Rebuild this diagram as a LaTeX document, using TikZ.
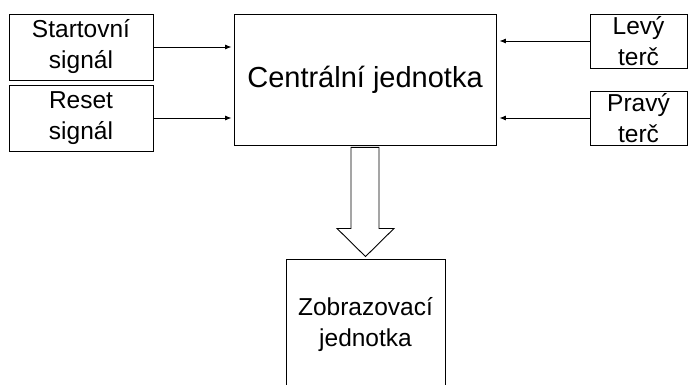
\documentclass[tikz,border=0pt]{standalone}
\usepackage{fontspec}
\setmainfont{Liberation Sans}
\usetikzlibrary{arrows.meta,calc}
\begin{document}
\begin{tikzpicture}[x=1pt,y=-1pt,
  blok/.style={draw, line width=0.9pt, align=center, inner sep=0pt,
    font=\fontsize{24.5}{31}\selectfont},
  sipka/.style={-{Latex[length=6.5pt,width=5pt]}, line width=0.8pt},
  tok/.style={draw, line width=0.9pt, line join=miter}]
\useasboundingbox (0,0) rectangle (688,385);
\clip (0,0) rectangle (688,385);
% input blocks
\node[blok, minimum width=144, minimum height=66] (start) at (81,47) {Startovní\\signál};
\node[blok, minimum width=144, minimum height=66] (reset) at (81,118) {Reset\\signál};
\node[blok, minimum width=97, minimum height=54] (levy) at (638.5,41) {Levý\\terč};
\node[blok, minimum width=97, minimum height=54] (pravy) at (638.5,118) {Pravý\\terč};
% central unit
\node[blok, minimum width=262, minimum height=131, font=\fontsize{29}{34}\selectfont]
  (centr) at (365,79.5) {Centrální jednotka};
% display unit
\node[blok, minimum width=159, minimum height=132] (zobr) at (365.5,325) {Zobrazovací\\jednotka};
% signal arrows
\draw[sipka, shorten >=2pt] (start.east) -- (start.east -| centr.west);
\draw[sipka, shorten >=2pt] (reset.east) -- (reset.east -| centr.west);
\draw[sipka, shorten >=3pt] (levy.west) -- (levy.west -| centr.east);
\draw[sipka, shorten >=3pt] (pravy.west) -- (pravy.west -| centr.east);
% hollow block arrow to the display unit
\draw[tok] ($(centr.south)+(-14,2)$) -- ($(centr.south)+(14,2)$)
  -- ($(centr.south)+(14,83)$) -- ($(centr.south)+(29,83)$)
  -- ($(zobr.north)+(0,-2)$)
  -- ($(centr.south)+(-28,83)$) -- ($(centr.south)+(-14,83)$) -- cycle;
\end{tikzpicture}
\end{document}
